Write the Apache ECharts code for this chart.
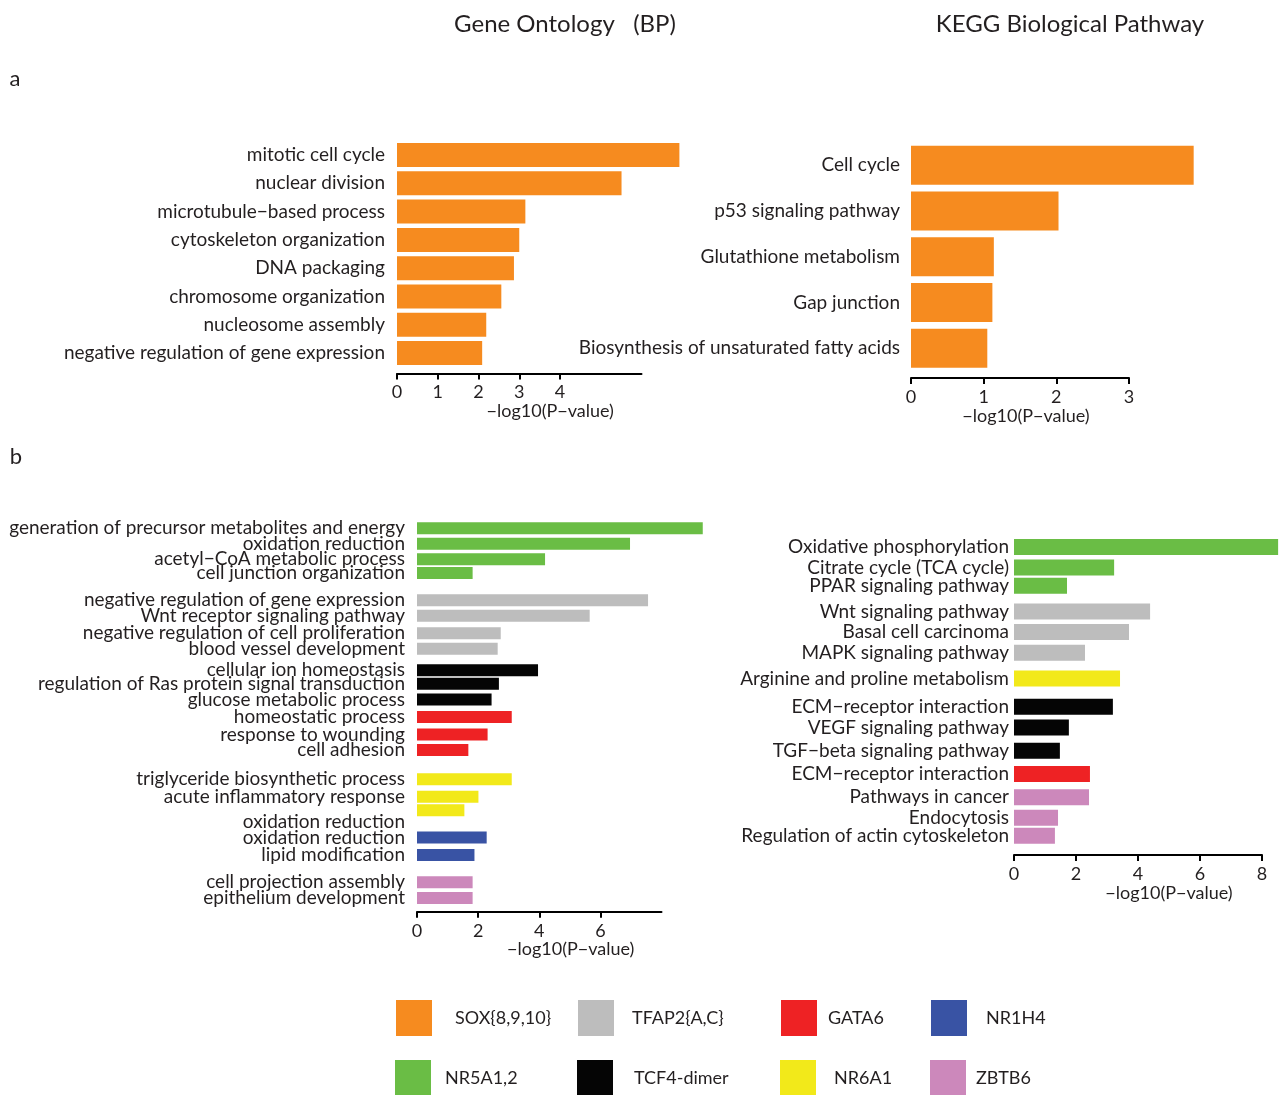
<!DOCTYPE html>
<html>
<head>
<meta charset="utf-8">
<script src="https://cdn.jsdelivr.net/npm/echarts@6/dist/echarts.min.js"></script>
<style>
  html, body { margin: 0; padding: 0; background: #ffffff; }
  #chart { width: 1281px; height: 1095px; }
</style>
</head>
<body>
<div id="chart"></div>
<script>
// ---------------- data ----------------
// (a) SOX{8,9,10} targets: GO biological process terms
const goTerms = [
  'mitotic cell cycle', 'nuclear division', 'microtubule\u2212based process',
  'cytoskeleton organization', 'DNA packaging', 'chromosome organization',
  'nucleosome assembly', 'negative regulation of gene expression'
];
const goValues = [6.93, 5.51, 3.15, 3.00, 2.87, 2.56, 2.19, 2.09];

// (a) SOX{8,9,10} targets: KEGG pathways
const keggTerms = [
  'Cell cycle', 'p53 signaling pathway', 'Glutathione metabolism',
  'Gap junction', 'Biosynthesis of unsaturated fatty acids'
];
const keggValues = [3.89, 2.03, 1.14, 1.12, 1.05];

// transcription factors (legend order)
const tfNames = ['SOX{8,9,10}', 'TFAP2{A,C}', 'GATA6', 'NR1H4', 'NR5A1,2', 'TCF4-dimer', 'NR6A1', 'ZBTB6'];

// (b) GO terms per transcription factor
const goTfTerms = [
  'generation of precursor metabolites and energy', 'oxidation reduction',
  'acetyl\u2212CoA metabolic process', 'cell junction organization',
  'negative regulation of gene expression', 'Wnt receptor signaling pathway',
  'negative regulation of cell proliferation', 'blood vessel development',
  'cellular ion homeostasis', 'regulation of Ras protein signal transduction',
  'glucose metabolic process',
  'homeostatic process', 'response to wounding', 'cell adhesion',
  'triglyceride biosynthetic process', 'acute inflammatory response', 'oxidation reduction',
  'oxidation reduction', 'lipid modification',
  'cell projection assembly', 'epithelium development'
];
const goTfValues = [9.35, 6.97, 4.19, 1.82, 7.56, 5.65, 2.74, 2.64, 3.96, 2.68, 2.44,
                    3.10, 2.31, 1.68, 3.10, 2.01, 1.55, 2.28, 1.88, 1.82, 1.82];
const goTfFactor = [
  'NR5A1,2', 'NR5A1,2', 'NR5A1,2', 'NR5A1,2',
  'TFAP2{A,C}', 'TFAP2{A,C}', 'TFAP2{A,C}', 'TFAP2{A,C}',
  'TCF4-dimer', 'TCF4-dimer', 'TCF4-dimer',
  'GATA6', 'GATA6', 'GATA6',
  'NR6A1', 'NR6A1', 'NR6A1',
  'NR1H4', 'NR1H4',
  'ZBTB6', 'ZBTB6'
];

// (b) KEGG pathways per transcription factor
const keggTfTerms = [
  'Oxidative phosphorylation', 'Citrate cycle (TCA cycle)', 'PPAR signaling pathway',
  'Wnt signaling pathway', 'Basal cell carcinoma', 'MAPK signaling pathway',
  'Arginine and proline metabolism',
  'ECM\u2212receptor interaction', 'VEGF signaling pathway', 'TGF\u2212beta signaling pathway',
  'ECM\u2212receptor interaction',
  'Pathways in cancer', 'Endocytosis', 'Regulation of actin cytoskeleton'
];
const keggTfValues = [8.52, 3.23, 1.71, 4.39, 3.71, 2.29, 3.42, 3.19, 1.77, 1.48, 2.45, 2.42, 1.42, 1.32];
const keggTfFactor = [
  'NR5A1,2', 'NR5A1,2', 'NR5A1,2',
  'TFAP2{A,C}', 'TFAP2{A,C}', 'TFAP2{A,C}',
  'NR6A1',
  'TCF4-dimer', 'TCF4-dimer', 'TCF4-dimer',
  'GATA6',
  'ZBTB6', 'ZBTB6', 'ZBTB6'
];

// axis tick labels
const goTicks = [0, 1, 2, 3, 4];
const keggTicks = [0, 1, 2, 3];
const goTfTicks = [0, 2, 4, 6];
const keggTfTicks = [0, 2, 4, 6, 8];

// ---------------- layout ----------------
// row slots on the fine category axes of panel b (groups separated by gaps)
const goTfSlots = 191;
const goTfBarRow   = [0, 8, 16, 23, 37, 45, 54, 62, 73, 80, 88, 97, 106, 114, 129, 138, 145, 159, 168, 182, 190];
const goTfLabelRow = [0, 8, 16, 23, 37, 45, 54, 62, 73, 80, 88, 97, 106, 114, 129, 138, 151, 159, 168, 182, 190];
const keggTfSlots = 113;
const keggTfRow = [0, 8, 15, 25, 33, 41, 51, 62, 70, 79, 88, 97, 105, 112];

// ---------------- style ----------------
const TEXT = '#231f20';
const FONT = 'Lato, "Open Sans", "Noto Sans", sans-serif';
const LABEL_SIZE = 19;
const tfColor = {
  'SOX{8,9,10}': '#f68b1f',
  'TFAP2{A,C}': '#bdbdbd',
  'GATA6': '#ee2224',
  'NR1H4': '#3953a4',
  'NR5A1,2': '#6abd45',
  'TCF4-dimer': '#050505',
  'NR6A1': '#f2e91a',
  'ZBTB6': '#cc88bb'
};

function range(n) { return Array.from({ length: n }, (_, i) => i); }

function rowLabels(n, terms, rows) {
  const out = new Array(n).fill('');
  terms.forEach((t, i) => { out[rows[i]] = t; });
  return out;
}

function categoryAxis(gridIndex, n, labels, margin) {
  return {
    type: 'category', gridIndex, inverse: true,
    data: range(n).map(i => 'r' + i),
    axisLine: { show: false }, axisTick: { show: false }, splitLine: { show: false },
    axisLabel: {
      interval: 0, margin, color: TEXT, fontFamily: FONT, fontSize: LABEL_SIZE,
      formatter: (v, i) => labels[i]
    }
  };
}

function valueAxis(gridIndex, max, interval, ticks, offset, nameGap, namePad) {
  return {
    type: 'value', gridIndex, min: 0, max, interval, offset,
    axisLine: { show: true, onZero: false, lineStyle: { color: '#000', width: 2 } },
    axisTick: { show: true, length: 6, lineStyle: { color: '#000', width: 2 }, customValues: ticks },
    axisLabel: { color: TEXT, fontFamily: FONT, fontSize: 18, margin: 10, customValues: ticks },
    splitLine: { show: false },
    name: '\u2212log10(P\u2212value)', nameLocation: 'middle', nameGap,
    nameTextStyle: { color: TEXT, fontFamily: FONT, fontSize: 18, padding: [0, 0, 0, namePad] }
  };
}

function factorSeries(gridIndex, n, values, factors, rows, barWidth) {
  const names = [...new Set(factors)];
  return names.map(name => {
    const data = new Array(n).fill('-');
    values.forEach((v, i) => { if (factors[i] === name) data[rows[i]] = v; });
    return {
      type: 'bar', name, xAxisIndex: gridIndex, yAxisIndex: gridIndex,
      data, barWidth, barGap: '-100%', clip: false, silent: true,
      itemStyle: { color: tfColor[name] }
    };
  });
}

const goRows = range(goTerms.length);
const keggRows = range(keggTerms.length);

const series = [].concat(
  factorSeries(0, goTerms.length, goValues, goTerms.map(() => 'SOX{8,9,10}'), goRows, 24),
  factorSeries(1, keggTerms.length, keggValues, keggTerms.map(() => 'SOX{8,9,10}'), keggRows, 39),
  factorSeries(2, goTfSlots, goTfValues, goTfFactor, goTfBarRow, 12),
  factorSeries(3, keggTfSlots, keggTfValues, keggTfFactor, keggTfRow, 16)
);

// legend: one swatch per transcription factor, two rows of four
const legendSpots = [
  [396, 1000, 23], [578, 1000, 18], [781, 1000, 11], [931, 1000, 19],
  [395, 1060, 14], [577, 1060, 21], [780, 1060, 18], [930, 1060, 10]
];
const legends = tfNames.map((name, i) => ({
  left: legendSpots[i][0], top: legendSpots[i][1], padding: 0,
  itemWidth: 36, itemHeight: 36, icon: 'rect', selectedMode: false,
  data: [name],
  textStyle: { color: TEXT, fontFamily: FONT, fontSize: 18, padding: [0, 0, 0, legendSpots[i][2] - 5] }
}));

const headText = (text, x, y, size) => ({
  type: 'text', x, y, silent: true,
  style: {
    text, fill: TEXT, font: size + 'px ' + FONT,
    align: 'center', textAlign: 'center', verticalAlign: 'middle', textVerticalAlign: 'middle'
  }
});

const option = {
  animation: false,
  backgroundColor: '#ffffff',
  textStyle: { fontFamily: FONT },
  grid: [
    { left: 397, top: 140.9, width: 244.5, height: 226.3, outerBoundsMode: 'none', containLabel: false },
    { left: 911, top: 142.4, width: 218, height: 228.75, outerBoundsMode: 'none', containLabel: false },
    { left: 417, top: 527.2, width: 244.5, height: 371.7, outerBoundsMode: 'none', containLabel: false },
    { left: 1014, top: 545.7, width: 248, height: 291.4, outerBoundsMode: 'none', containLabel: false }
  ],
  xAxis: [
    valueAxis(0, 6, 1, goTicks, 6.3, 22, 62),
    valueAxis(1, 3, 1, keggTicks, 6.8, 29, 12),
    valueAxis(2, 8, 2, goTfTicks, 12.8, 23, 63),
    valueAxis(3, 8, 2, keggTfTicks, 18, 22, 62)
  ],
  yAxis: [
    categoryAxis(0, goTerms.length, goTerms, 12),
    categoryAxis(1, keggTerms.length, keggTerms, 11),
    categoryAxis(2, goTfSlots, rowLabels(goTfSlots, goTfTerms, goTfLabelRow), 12),
    categoryAxis(3, keggTfSlots, rowLabels(keggTfSlots, keggTfTerms, keggTfRow), 5)
  ],
  legend: legends,
  graphic: [
    headText('Gene Ontology   (BP)', 565, 24, 24),
    headText('KEGG Biological Pathway', 1070, 24, 24),
    headText('a', 15, 79, 22),
    headText('b', 16, 457, 22)
  ],
  series
};

const chart = echarts.init(document.getElementById('chart'), null, { renderer: 'canvas', devicePixelRatio: 1 });
chart.setOption(option);
</script>
</body>
</html>
